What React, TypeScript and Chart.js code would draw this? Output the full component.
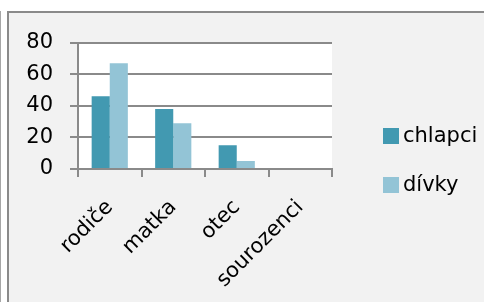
import React, { useEffect, useRef } from "react";
import { Chart, registerables } from "chart.js";

Chart.register(...registerables);

const categories = ["rodiče", "matka", "otec", "sourozenci"];
const seriesNames = ["chlapci", "dívky"];
const chlapci = [46, 38, 15, 0];
const divky = [67, 29, 5, 0];
const yTicks = [0, 20, 40, 60, 80];

const COLORS = ["#4299b1", "#93c4d6"];
const GRID = "#8a8a8a";
const FONT = "'DejaVu Sans', sans-serif";
const FONT_SIZE = 21;

const plotBg = {
  id: "plotBg",
  beforeDraw(chart: any) {
    const { ctx, chartArea } = chart;
    ctx.save();
    ctx.fillStyle = "#ffffff";
    ctx.fillRect(chartArea.left, chartArea.top, chartArea.right - chartArea.left, chartArea.bottom - chartArea.top);
    ctx.restore();
  },
};

const sideLegend = {
  id: "sideLegend",
  afterDraw(chart: any) {
    const { ctx, chartArea } = chart;
    const datasets = chart.data.datasets;
    const box = 16;
    const spacing = 49;
    const x = chartArea.right + 51;
    const cy = chart.height / 2 + 3;
    const start = cy - ((datasets.length - 1) * spacing) / 2;
    ctx.save();
    ctx.font = `${FONT_SIZE}px ${FONT}`;
    ctx.textBaseline = "middle";
    ctx.textAlign = "left";
    datasets.forEach((ds: any, i: number) => {
      const y = start + i * spacing;
      ctx.fillStyle = ds.backgroundColor;
      ctx.fillRect(x, y - box / 2, box, box);
      ctx.fillStyle = "#000000";
      ctx.fillText(ds.label, x + box + 4, y + 1);
    });
    ctx.restore();
  },
};

export default function App() {
  const ref = useRef<HTMLCanvasElement | null>(null);

  useEffect(() => {
    if (!ref.current) return;
    const chart = new Chart(ref.current, {
      type: "bar",
      data: {
        labels: categories,
        datasets: [
          { label: seriesNames[0], data: chlapci, backgroundColor: COLORS[0] },
          { label: seriesNames[1], data: divky, backgroundColor: COLORS[1] },
        ],
      },
      plugins: [plotBg, sideLegend],
      options: {
        responsive: false,
        animation: false,
        layout: { padding: { left: 0, top: 29, right: 152, bottom: 0 } },
        datasets: {
          bar: { categoryPercentage: 0.57, barPercentage: 1.0, borderWidth: 0 },
        },
        plugins: {
          legend: { display: false },
          tooltip: { enabled: false },
        },
        scales: {
          x: {
            offset: true,
            grid: {
              offset: true,
              drawOnChartArea: false,
              drawTicks: true,
              tickLength: 8,
              color: GRID,
              lineWidth: 2,
            },
            border: { display: true, color: GRID, width: 2 },
            ticks: {
              color: "#000000",
              font: { family: FONT, size: FONT_SIZE },
              maxRotation: 45,
              minRotation: 45,
              padding: 18,
              labelOffset: 0,
              autoSkip: false,
            },
            afterFit(scale: any) {
              scale.height = 133;
            },
          },
          y: {
            min: 0,
            max: 80,
            afterBuildTicks(scale: any) {
              scale.ticks = yTicks.map((v) => ({ value: v }));
            },
            grid: {
              color: GRID,
              lineWidth: 2,
              drawTicks: true,
              tickLength: 8,
            },
            border: { display: true, color: GRID, width: 2 },
            ticks: {
              color: "#000000",
              font: { family: FONT, size: FONT_SIZE },
              padding: 17,
            },
            afterFit(scale: any) {
              scale.width = 69;
            },
          },
        },
      },
    });
    return () => chart.destroy();
  }, []);

  return (
    <div style={{ position: "absolute", left: 0, top: 0, width: 484, height: 302, background: "#ffffff", overflow: "hidden" }}>
      <div style={{ position: "absolute", left: 0, top: 11, width: 1, height: 291, background: "#a6a6a6" }} />
      <div
        style={{
          position: "absolute",
          left: 7,
          top: 11,
          width: 477,
          height: 291,
          background: "#f2f2f2",
          borderLeft: "2px solid #8a8a8a",
          borderTop: "2px solid #8a8a8a",
          boxSizing: "border-box",
        }}
      >
        <canvas ref={ref} width={475} height={289} style={{ display: "block", width: 475, height: 289 }} />
      </div>
    </div>
  );
}
